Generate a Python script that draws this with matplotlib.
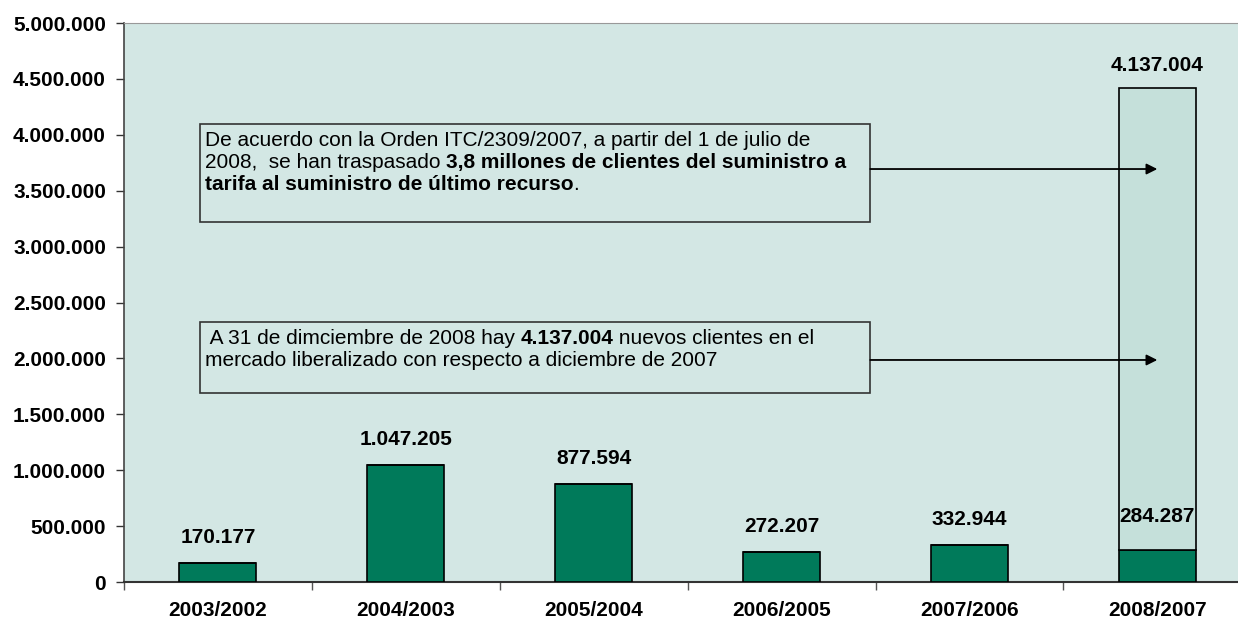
import matplotlib
matplotlib.use("Agg")
import matplotlib.pyplot as plt
from matplotlib.patches import Rectangle
from matplotlib.ticker import FuncFormatter, FixedLocator

periods = ["2003/2002", "2004/2003", "2005/2004", "2006/2005", "2007/2006", "2008/2007"]
new_clients = [170177, 1047205, 877594, 272207, 332944, 284287]
transferred = [0, 0, 0, 0, 0, 4137004]   # traspaso a suministro de último recurso (solo 2008)
top_label = "4.137.004"

BG = "#d3e7e4"
DARK = "#007a5a"
LIGHT = "#c5e0da"
plt.rcParams["font.family"] = ["Liberation Sans", "DejaVu Sans"]


def fmt(v):
    return f"{v:,.0f}".replace(",", ".")


def rich_line(ax, x, y, parts, size=15):
    """Escribe una línea con tramos normales y en negrita."""
    prev = ax.text(x, y, parts[0][0], fontsize=size, fontweight=parts[0][1],
                   va="baseline", ha="left", zorder=7)
    for txt, weight in parts[1:]:
        prev = ax.annotate(txt, xy=(1, 0), xycoords=prev, va="bottom", ha="left",
                           fontsize=size, fontweight=weight, zorder=7)


fig = plt.figure(figsize=(12.38, 6.22), dpi=100)
ax = fig.add_axes([0.1002, 0.0643, 0.9105, 0.8987])
ax.set_facecolor(BG)

x = list(range(len(periods)))
ax.bar(x, new_clients, width=0.41, color=DARK, edgecolor="black", linewidth=1.2, zorder=3)
ax.bar(x, transferred, width=0.41, bottom=new_clients, color=LIGHT, edgecolor="black",
       linewidth=1.2, zorder=3)

ax.set_xlim(-0.5, len(periods) - 0.5)
ax.set_ylim(0, 5000000)

ax.yaxis.set_major_locator(FixedLocator([i * 500000 for i in range(11)]))
ax.yaxis.set_major_formatter(FuncFormatter(lambda v, p: fmt(v)))
ax.tick_params(axis="y", length=6, width=1, color="#333333", pad=7, labelsize=15)
for lbl in ax.get_yticklabels():
    lbl.set_fontweight("bold")

ax.set_xticks(x)
ax.set_xticklabels(periods, fontsize=15, fontweight="bold")
ax.tick_params(axis="x", which="major", length=0, pad=14)
ax.set_xticks([i - 0.5 for i in range(len(periods) + 1)], minor=True)
ax.tick_params(axis="x", which="minor", length=6, width=1, color="#555555")

ax.spines["right"].set_visible(False)
ax.spines["top"].set_color("#999999")
ax.spines["left"].set_color("#444444")
ax.spines["left"].set_linewidth(1.2)
ax.spines["bottom"].set_color("#333333")
ax.spines["bottom"].set_linewidth(1.5)

# etiquetas de valor
for i, v in enumerate(new_clients):
    off = 24 if i == len(periods) - 1 else 18
    ax.annotate(fmt(v), xy=(i, v), xytext=(0, off), textcoords="offset points",
                ha="center", va="center", fontsize=15, fontweight="bold", zorder=5)
ax.annotate(top_label, xy=(5, new_clients[5] + transferred[5]), xytext=(0, 16),
            textcoords="offset points", ha="center", va="center",
            fontsize=15, fontweight="bold")

# cuadros de texto
ax.add_patch(Rectangle((-0.095, 3220000), 3.567, 877000, facecolor=BG,
                       edgecolor="#333333", linewidth=1.2, zorder=4))
ax.add_patch(Rectangle((-0.095, 1690000), 3.567, 636000, facecolor=BG,
                       edgecolor="#333333", linewidth=1.2, zorder=4))

rich_line(ax, -0.07, 3900000,
          [("De acuerdo con la Orden ITC/2309/2007, a partir del 1 de julio de", "normal")])
rich_line(ax, -0.07, 3703000,
          [("2008,  se han traspasado ", "normal"),
           ("3,8 millones de clientes del suministro a", "bold")])
rich_line(ax, -0.07, 3506000,
          [("tarifa al suministro de último recurso", "bold"), (".", "normal")])

rich_line(ax, -0.07, 2129000,
          [(" A 31 de dimciembre de 2008 hay ", "normal"), ("4.137.004", "bold"),
           (" nuevos clientes en el", "normal")])
rich_line(ax, -0.07, 1932000,
          [("mercado liberalizado con respecto a diciembre de 2007", "normal")])

for y in (3694000, 1986000):
    ax.annotate("", xy=(5.0, y), xytext=(3.472, y),
                arrowprops=dict(arrowstyle="-|>", color="black", lw=1.3,
                                mutation_scale=16, shrinkA=0, shrinkB=0), zorder=6)

fig.savefig("out.png", dpi=100)
